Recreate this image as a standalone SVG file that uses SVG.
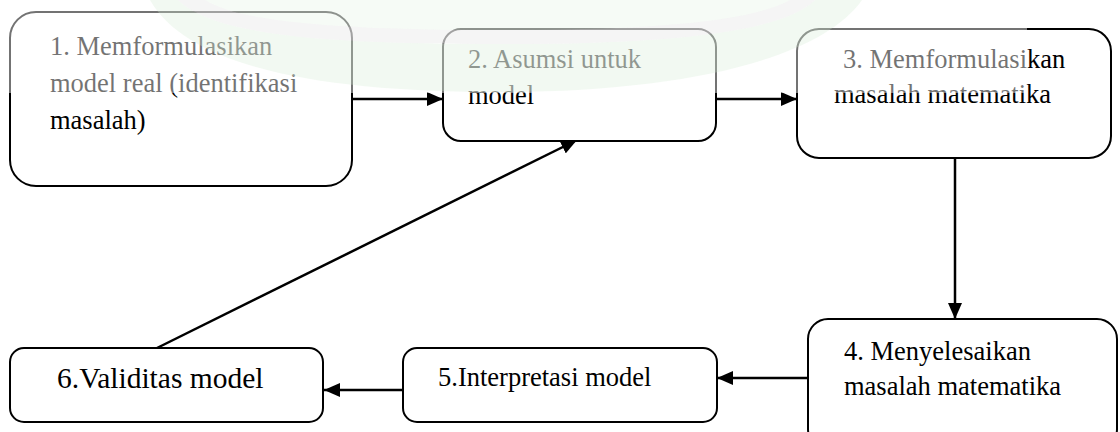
<svg xmlns="http://www.w3.org/2000/svg" width="1120" height="432" viewBox="0 0 1120 432">
  <style>
    .box { fill: #ffffff; stroke: #000000; stroke-width: 2; }
    .lbl { font-family: "Liberation Serif", "Times New Roman", Times, serif; font-size: 26.5px; fill: #000000; }
    .big { font-size: 29.5px; }
    .conn { stroke: #000000; stroke-width: 2.5; fill: none; marker-end: url(#arrow); }
  </style>
  <defs>
    <marker id="arrow" viewBox="0 0 16 14" refX="16" refY="7" markerWidth="16" markerHeight="14" markerUnits="userSpaceOnUse" orient="auto">
      <path d="M0,0 L16,7 L0,14 Z" fill="#000000"/>
    </marker>
  </defs>

  <rect width="1120" height="432" fill="#ffffff"/>

  <!-- connectors -->
  <g id="connectors">
    <line class="conn" x1="352" y1="99" x2="443" y2="99"/>
    <line class="conn" x1="716" y1="99" x2="797" y2="99"/>
    <line class="conn" x1="955" y1="158" x2="955" y2="319"/>
    <line class="conn" x1="808" y1="378" x2="717" y2="378"/>
    <line class="conn" x1="403" y1="390" x2="324" y2="390"/>
    <line class="conn" x1="157" y1="348" x2="577" y2="140"/>
  </g>

  <!-- step 1 -->
  <g id="step1">
    <rect class="box" x="10" y="12" width="342" height="174" rx="26"/>
    <text class="lbl" x="50" y="55">1. Memformulasikan</text>
    <text class="lbl" x="50" y="92">model real (identifikasi</text>
    <text class="lbl" x="50" y="129">masalah)</text>
  </g>

  <!-- step 2 -->
  <g id="step2">
    <rect class="box" x="443" y="29" width="273" height="112" rx="18"/>
    <text class="lbl" x="468" y="68">2. Asumsi untuk</text>
    <text class="lbl" x="468" y="104">model</text>
  </g>

  <!-- step 3 -->
  <g id="step3">
    <rect class="box" x="797" y="29" width="314" height="129" rx="22"/>
    <text class="lbl" x="843" y="68">3. Memformulasikan</text>
    <text class="lbl" x="834" y="103">masalah matematika</text>
  </g>

  <!-- step 4 -->
  <g id="step4">
    <rect class="box" x="808" y="319" width="309" height="130" rx="20"/>
    <text class="lbl" x="844" y="360">4. Menyelesaikan</text>
    <text class="lbl" x="844" y="395">masalah matematika</text>
  </g>

  <!-- step 5 -->
  <g id="step5">
    <rect class="box" x="403" y="348" width="314" height="74" rx="14"/>
    <text class="lbl" x="438" y="386">5.Interpretasi model</text>
  </g>

  <!-- step 6 -->
  <g id="step6">
    <rect class="box" x="10" y="348" width="313" height="74" rx="14"/>
    <text class="lbl big" x="57" y="388">6.Validitas model</text>
  </g>

  <!-- faint watermark band across the top -->
  <g id="watermark">
    <rect x="0" y="0" width="1027" height="93" fill="#ffffff" fill-opacity="0.45"/>
    <!-- outer green ring segment -->
    <path d="M150,0 C190,70 330,92 500,92 C680,92 820,60 862,0 L815,0 C780,34 660,44 500,44 C330,44 215,36 178,0 Z" fill="#d4ead4" fill-opacity="0.3"/>
    <!-- pale grey inner ring -->
    <path d="M178,0 C215,36 330,44 500,44 C660,44 780,34 815,0 L790,0 C750,22 650,30 500,30 C340,30 240,22 205,0 Z" fill="#e6e6e6" fill-opacity="0.4"/>
    <!-- inner green disc edge -->
    <path d="M205,0 C240,22 340,30 500,30 C650,30 750,22 790,0 Z" fill="#dcefdc" fill-opacity="0.25"/>
  </g>
</svg>
